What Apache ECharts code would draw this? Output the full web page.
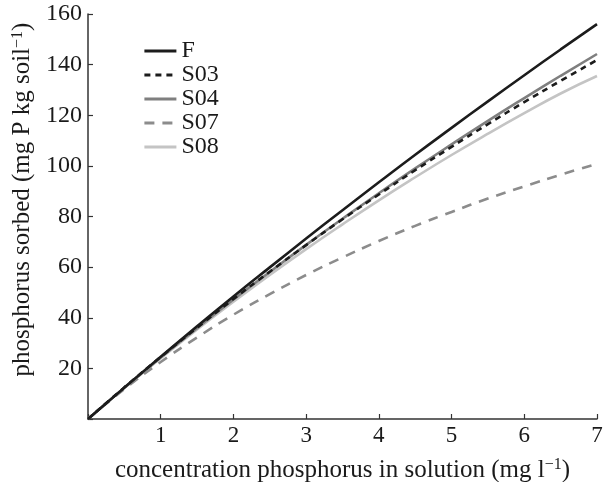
<!DOCTYPE html>
<html><head><meta charset="utf-8">
<script src="https://cdn.jsdelivr.net/npm/echarts@6/dist/echarts.min.js"></script>
<style>html,body{margin:0;padding:0;background:#fff}#c{width:608px;height:482px}</style>
</head><body><div id="c"></div>
<script>
var conc = [0,0.5,1,1.5,2,2.5,3,3.5,4,4.5,5,5.5,6,6.5,7];
var seriesNames = ['F','S03','S04','S07','S08'];
var F   = [0,12.4,24.6,36.6,48.4,59.9,71.3,82.5,93.5,104.4,115.0,125.5,135.8,146.0,156.0];
var S03 = [0,12.5,24.5,36.1,47.4,58.2,68.7,78.9,88.7,98.3,107.5,116.5,125.2,133.6,141.8];
var S04 = [0,12.3,24.3,35.9,47.2,58.1,68.8,79.1,89.2,99.0,108.5,117.8,126.8,135.6,144.2];
var S07 = [0,11.8,22.5,32.2,41.2,49.3,56.9,63.8,70.3,76.3,81.8,87.1,91.9,96.5,100.8];
var S08 = [0,12.3,24.0,35.4,46.3,56.9,67.1,76.9,86.4,95.5,104.3,112.7,120.8,128.6,135.5];
var xTicks = [1,2,3,4,5,6,7];
var yTicks = [20,40,60,80,100,120,140,160];

var values = [F,S03,S04,S07,S08];
var styles = [
  {color:'#1c1c1c', type:'solid'},
  {color:'#1c1c1c', type:[6,5]},
  {color:'#7f7f7f', type:'solid'},
  {color:'#8c8c8c', type:[10,8]},
  {color:'#c4c4c4', type:'solid'}
];
function pairs(v){ return conc.map(function(c,i){return [c,v[i]];}); }
var font = "'Liberation Serif', 'Times New Roman', serif";
var chart = echarts.init(document.getElementById('c'), null, {renderer:'canvas'});
chart.setOption({
  animation:false,
  backgroundColor:'#fff',
  textStyle:{fontFamily:font},
  grid:{left:88, right:11, top:14, bottom:63, containLabel:false, outerBoundsMode:'none'},
  legend:{
    left:143, top:39, padding:0, orient:'vertical', itemGap:0, itemWidth:32, itemHeight:24,
    itemStyle:{color:'rgba(0,0,0,0)', borderColor:'rgba(0,0,0,0)', borderWidth:0},
    lineStyle:{width:2.8},
    textStyle:{fontFamily:font, fontSize:24, color:'#1a1a1a', padding:[0,0,0,0]},
    data: seriesNames
  },
  xAxis:{
    type:'value', min:0, max:7, interval:1,
    axisLine:{lineStyle:{color:'#333', width:1.5}},
    axisTick:{inside:true, length:5, lineStyle:{color:'#333', width:1.2}},
    splitLine:{show:false},
    axisLabel:{fontFamily:font, fontSize:23, color:'#1a1a1a', margin:5,
      formatter:function(v){return xTicks.indexOf(v)>=0 ? String(v) : '';}},
    name:'{t|concentration phosphorus in solution (mg l}{s|\u22121}{t|)}',
    nameLocation:'middle', nameGap:38,
    nameTextStyle:{rich:{t:{fontFamily:font,fontSize:25,color:'#1a1a1a'},
                         s:{fontFamily:font,fontSize:16,color:'#1a1a1a',verticalAlign:'top',padding:[0,0,10,0]}}}
  },
  yAxis:{
    type:'value', min:0, max:160, interval:20,
    axisLine:{show:true, lineStyle:{color:'#333', width:1.5}},
    axisTick:{show:true, inside:true, length:5, lineStyle:{color:'#333', width:1.2}},
    splitLine:{show:false},
    axisLabel:{fontFamily:font, fontSize:24, color:'#1a1a1a', margin:6,
      formatter:function(v){return yTicks.indexOf(v)>=0 ? String(v) : '';}},
    name:'{t|phosphorus sorbed (mg P kg soil}{s|\u22121}{t|)}',
    nameLocation:'middle', nameGap:46,
    nameTextStyle:{padding:[0,0,0,34], rich:{t:{fontFamily:font,fontSize:25,color:'#1a1a1a'},
                         s:{fontFamily:font,fontSize:16,color:'#1a1a1a',verticalAlign:'top',padding:[0,0,10,0]}}}
  },
  series: seriesNames.map(function(n,i){
    return {
      name:n, type:'line', data:pairs(values[i]), smooth:true, showSymbol:false, symbol:'none',
      lineStyle:{color:styles[i].color, width:2.6, type:styles[i].type},
      itemStyle:{color:styles[i].color},
      z: [6,5,4,3,2][i]
    };
  })
});
</script>
</body></html>
